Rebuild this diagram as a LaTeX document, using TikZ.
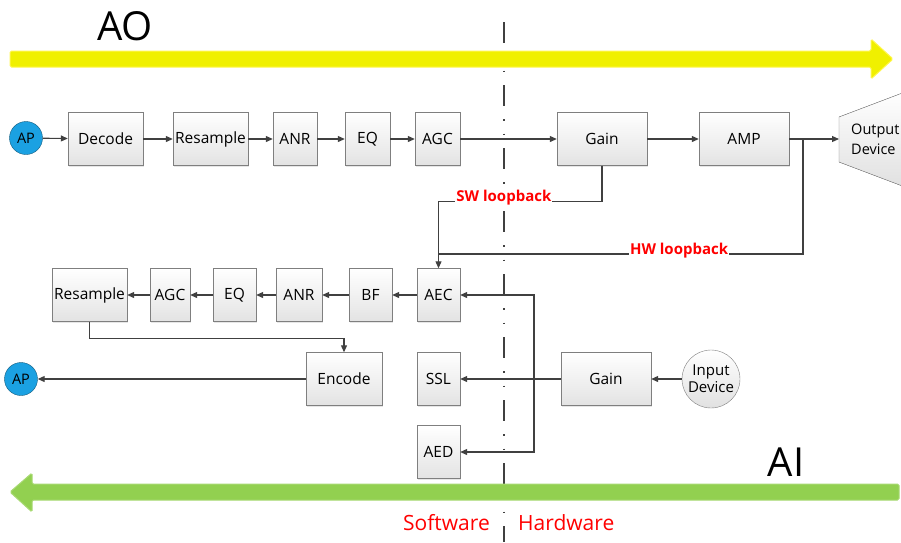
\documentclass[tikz,border=0pt]{standalone}
\usepackage{fontspec}
\setmainfont{Open Sans}
\usetikzlibrary{arrows.meta, shadows}

\definecolor{lineg}{HTML}{404040}
\definecolor{boxg}{HTML}{7F7F7F}
\definecolor{apblue}{HTML}{1BA1E2}
\definecolor{aoyellow}{HTML}{F0F000}
\definecolor{aigreen}{HTML}{92D050}

\begin{document}
\begin{tikzpicture}[x=1pt, y=-1pt,
    blk/.style={draw=boxg, top color=white, bottom color=black!11, minimum height=53, inner sep=0pt,
                font=\fontsize{15.5}{18}\selectfont,
                drop shadow={opacity=0.2, shadow xshift=1.2pt, shadow yshift=-1.2pt}},
    apnode/.style={circle, draw=apblue!55!black, fill=apblue, minimum size=33, inner sep=0pt,
                   font=\fontsize{14.5}{16}\selectfont},
    devnode/.style={circle, draw=boxg, top color=white, bottom color=black!12, minimum size=58, inner sep=0pt,
                    align=center, font=\fontsize{15}{17}\selectfont},
    wire/.style={draw=lineg, line width=1.1pt},
    loopl/.style={anchor=base, fill=white, text=red, inner sep=1pt, font=\bfseries\fontsize{15}{17}\selectfont},
    sepline/.style={draw=lineg, line width=2.6pt,
                    dash pattern=on 21pt off 13pt on 1.5pt off 13pt on 1.5pt off 13pt}]

\useasboundingbox (0, 0) rectangle (901, 542);

% software / hardware border
\draw[sepline] (504, 22) -- (504, 542);

% big AO and AI arrows
\filldraw[fill=aoyellow, draw=yellow!70!white, line width=1pt, rounded corners=1.5]
    (10, 51) -- (871, 51) -- (871, 39) -- (893, 59) -- (871, 79) -- (871, 67) -- (10, 67) -- cycle;
\filldraw[fill=aigreen, draw=aigreen!80!white, line width=1pt, rounded corners=1.5]
    (899, 484) -- (32, 484) -- (32, 473) -- (10, 492) -- (32, 512) -- (32, 500) -- (899, 500) -- cycle;

\node (ao) at (125, 26) [font=\fontsize{40}{44}\selectfont] {AO};
\node (ai) at (786, 462) [font=\fontsize{40}{44}\selectfont] {AI};

% output path
\node (apO) at (26, 138) [apnode] {AP};
\node (decode) at (105.5, 139) [blk, minimum width=75] {Decode};
\node (resO) at (210.5, 139) [blk, minimum width=75] {Resample};
\node (anrO) at (295, 139) [blk, minimum width=44] {ANR};
\node (eqO) at (367.5, 139) [blk, minimum width=45] {EQ};
\node (agcO) at (437.5, 139) [blk, minimum width=45] {AGC};
\node (gainO) at (602, 139) [blk, minimum width=90] {Gain};
\node (amp) at (744, 139) [blk, minimum width=90] {AMP};

\filldraw[draw=boxg, top color=white, bottom color=black!12]
    (839, 117) -- (905, 92) -- (905, 187) -- (839, 162) -- cycle;
\node (outdev) at (839, 139) [anchor=west, align=left, inner xsep=12pt, inner ysep=0pt,
    font=\fontsize{14.5}{20}\selectfont] {Output\\Device};

% input path
\node (resI) at (89.5, 295) [blk, minimum width=75] {Resample};
\node (agcI) at (170, 295) [blk, minimum width=40] {AGC};
\node (eqI) at (234.5, 295) [blk, minimum width=43] {EQ};
\node (anrI) at (299, 295) [blk, minimum width=46] {ANR};
\node (bf) at (370.5, 295) [blk, minimum width=43] {BF};
\node (aec) at (438.5, 295) [blk, minimum width=43] {AEC};

\node (apI) at (21, 379) [apnode] {AP};
\node (encode) at (344, 379) [blk, minimum width=76] {Encode};
\node (ssl) at (438.5, 379) [blk, minimum width=43] {SSL};
\node (gainI) at (606, 379) [blk, minimum width=90] {Gain};
\node (indev) at (711, 379) [devnode] {Input\\Device};
\node (aed) at (438.5, 452) [blk, minimum width=43] {AED};

\coordinate (tap) at (803, 139);
\coordinate (hwjoin) at (438.5, 254);
\coordinate (split) at (534, 379);

\begin{scope}[>={Triangle[length=7pt, width=6pt]},
              every edge/.style={wire}]
    \path [->] (apO) edge (decode) (decode) edge (resO) (resO) edge (anrO)
               (anrO) edge (eqO) (eqO) edge (agcO) (agcO) edge (gainO)
               (gainO) edge (amp) (amp) edge (outdev);

    \draw [wire, ->] (gainO.south) -- ++(0, 36) -| node[loopl, pos=0.3] {SW loopback} (aec.north);
    \draw [wire] (tap) |- node[loopl, pos=0.67] {HW loopback} (hwjoin);

    \path [->] (aec) edge (bf) (bf) edge (anrI) (anrI) edge (eqI)
               (eqI) edge (agcI) (agcI) edge (resI);
    \draw [wire, ->] (resI.south) -- ++(0, 17) -| (encode.north);
    \path [->] (encode) edge (apI);

    \path [->] (indev) edge (gainI) (gainI) edge (ssl);
    \draw [wire, ->] (split) |- (aec.east);
    \draw [wire, ->] (split) |- (aed.east);
\end{scope}

\node (sw) at (490, 523) [anchor=east, inner sep=0pt, text=red, font=\fontsize{21}{24}\selectfont] {Software};
\node (hw) at (518, 523) [anchor=west, inner sep=0pt, text=red, font=\fontsize{21}{24}\selectfont] {Hardware};

\end{tikzpicture}
\end{document}
